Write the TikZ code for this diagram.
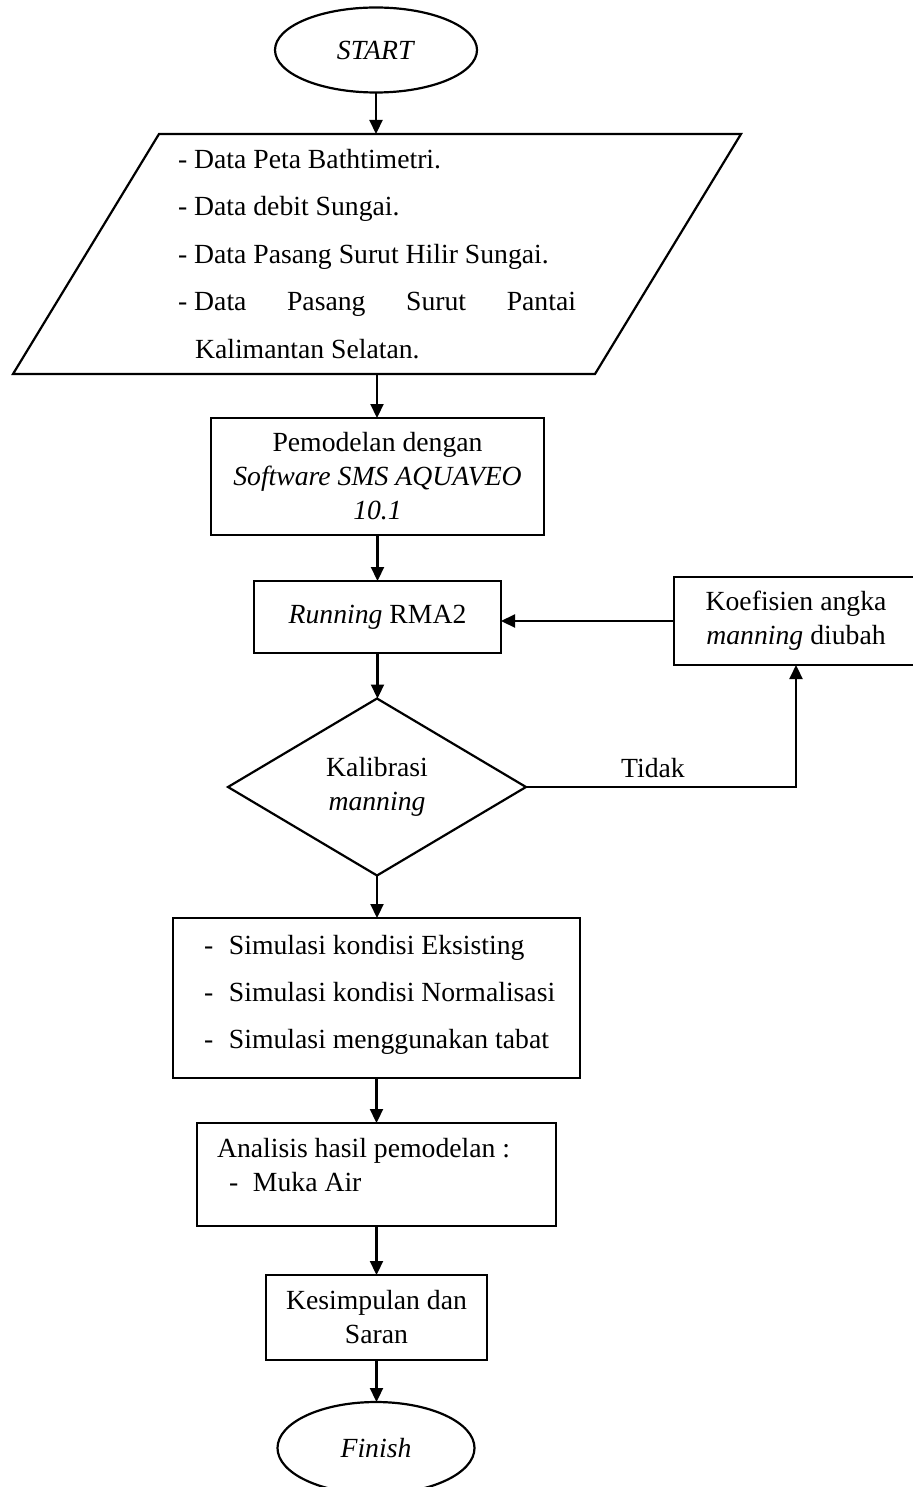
\documentclass[tikz,border=0pt]{standalone}
\usepackage{fontspec}
\setmainfont{Liberation Serif}
\usetikzlibrary{shapes.geometric,arrows.meta}
\begin{document}
\begin{tikzpicture}[x=1pt,y=-1pt,
  line width=2.2pt,
  every node/.style={font=\fontsize{27.7}{34}\selectfont, inner sep=0pt, outer sep=0pt},
  box/.style={draw, rectangle, align=center},
  term/.style={draw, ellipse},
  arr/.style={-{Triangle[length=14pt,width=13pt]}},
  txt/.style={anchor=base west}
]
\useasboundingbox (0,0) rectangle (912,1487);

% START
\node[term, minimum width=202pt, minimum height=85pt] (start) at (376,50) {\textit{START}};

% input parallelogram
\node[minimum width=728pt, minimum height=240pt] (input) at (377,254) {};
\draw ([xshift=146pt]input.north west) -- (input.north east) -- ([xshift=-146pt]input.south east) -- (input.south west) -- cycle;
\node[txt] (d1) at (178,169) {- Data Peta Bathtimetri.};
\node[txt] (d2) at (178,216) {- Data debit Sungai.};
\node[txt] (d3) at (178,264) {- Data Pasang Surut Hilir Sungai.};
\node[txt] (d4) at (178,311) {\makebox[398pt][l]{-\kern7pt Data\hfill Pasang\hfill Surut\hfill Pantai}};
\node[txt] (d5) at (195,358) {Kalimantan Selatan.};

% modelling
\node[box, minimum width=333pt, minimum height=117pt] (model) at (377.5,476.5) {Pemodelan dengan\\\textit{Software SMS AQUAVEO}\\\textit{10.1}};

% running
\node[box, minimum width=247pt, minimum height=72pt] (run) at (377.5,617) {\textit{Running} RMA2};

% koefisien
\node[box, minimum width=244pt, minimum height=88pt] (koef) at (796,621) {Koefisien angka\\\textit{manning} diubah};

% decision
\node[draw, diamond, minimum width=298pt, minimum height=177pt, align=center] (cal) at (377,787) {Kalibrasi\\\textit{manning}};
\node[anchor=base] (tidak) at (653,777) {Tidak};

% simulations
\node[box, minimum width=407pt, minimum height=160pt] (sim) at (376.5,998) {};
\node[txt] (s1) at (204,954) {\makebox[25pt][l]{-}Simulasi kondisi Eksisting};
\node[txt] (s2) at (204,1001) {\makebox[25pt][l]{-}Simulasi kondisi Normalisasi};
\node[txt] (s3) at (204,1048) {\makebox[25pt][l]{-}Simulasi menggunakan tabat};

% analysis
\node[box, minimum width=359pt, minimum height=103pt] (ana) at (376.5,1174.5) {};
\node[txt] (a1) at (217,1157) {Analisis hasil pemodelan :};
\node[txt] (a2) at (229,1191) {\makebox[24pt][l]{-}Muka Air};

% conclusion
\node[box, minimum width=221pt, minimum height=85pt] (kes) at (376.5,1317.5) {Kesimpulan dan\\Saran};

% finish
\node[term, minimum width=197pt, minimum height=92pt] (finish) at (376,1448) {\textit{Finish}};

% connectors
\draw[arr] (start.south) -- (start.south |- input.north);
\draw[arr] (input.south) -- (input.south |- model.north);
\draw[arr] (model.south) -- (model.south |- run.north);
\draw[arr] (run.south) -- (run.south |- cal.north);
\draw[arr] (cal.south) -- (cal.south |- sim.north);
\draw[arr] (sim.south) -- (sim.south |- ana.north);
\draw[arr] (ana.south) -- (ana.south |- kes.north);
\draw[arr] (kes.south) -- (kes.south |- finish.north);
\draw[arr] (cal.east) -- (cal.east -| koef.south) -- (koef.south);
\draw[arr] (koef.west) -- (koef.west -| run.east);
\end{tikzpicture}
\end{document}
